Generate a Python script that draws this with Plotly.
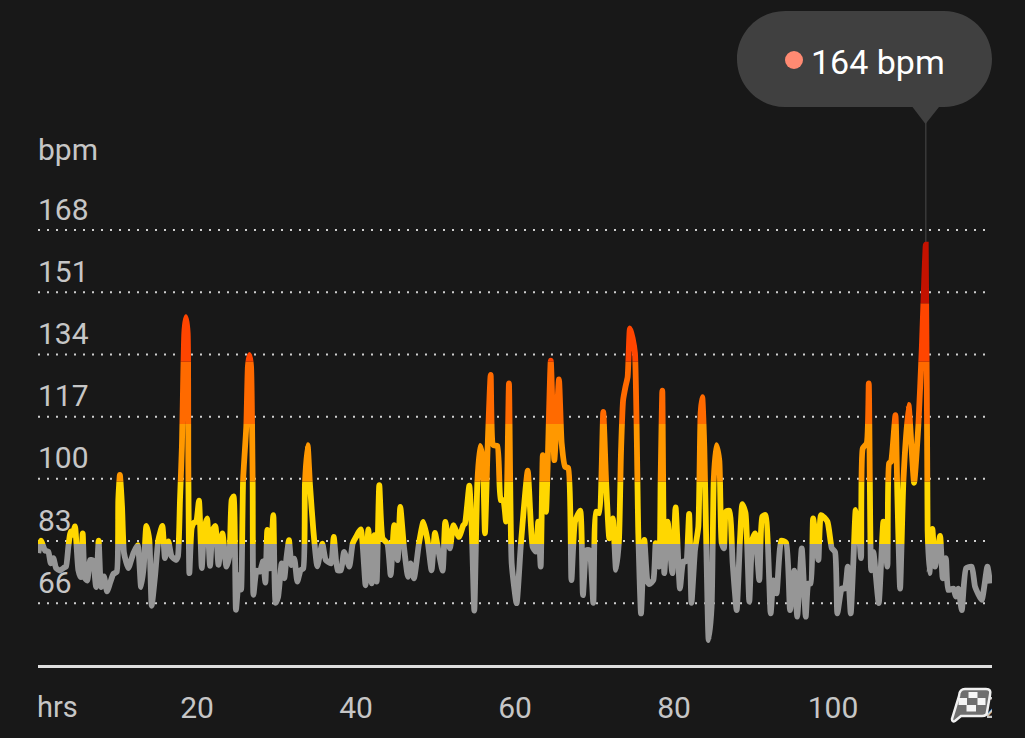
import plotly.graph_objects as go

# Elapsed time (hours) and heart rate (bpm) along the activity
hours = [
    0.04, 0.38, 0.88, 1.3, 1.6, 1.93, 2.27, 2.77, 3.19, 3.52,
    3.82, 4.11, 4.36, 4.65, 5.07, 5.37, 5.62, 5.91, 6.2, 6.54,
    6.88, 7.3, 7.63, 7.93, 8.3, 8.68, 9.06, 9.48, 9.9, 10.1,
    10.3, 10.57, 10.82, 11.36, 12, 12.54, 12.96, 13.3, 13.63, 14,
    14.3, 14.72, 15.14, 15.64, 15.97, 16.4, 16.8, 17.36, 17.6, 17.86,
    18.1, 18.4, 18.6, 18.83, 18.91, 19.04, 19.33, 19.62, 19.9, 20.25,
    20.6, 20.9, 21.26, 21.64, 21.97, 22.3, 22.7, 23.2, 23.7, 24.07,
    24.36, 24.6, 24.9, 25.3, 25.55, 25.8, 26.2, 26.4, 26.6, 26.8,
    27, 27.1, 27.5, 27.9, 28.3, 28.6, 28.84, 29.18, 29.6, 29.89,
    30.2, 30.65, 30.98, 31.27, 31.57, 31.9, 32.24, 32.62, 33.03, 33.37,
    33.58, 33.92, 34.2, 34.63, 35.13, 35.76, 36.2, 36.85, 37.2, 37.69,
    38.1, 38.5, 39.16, 39.58, 40, 40.6, 41.2, 41.55, 41.97, 42.3,
    42.6, 42.93, 43.35, 43.94, 44.36, 44.8, 45.24, 45.57, 46.03, 46.54,
    46.87, 47.29, 47.92, 48.47, 49, 49.5, 49.93, 50.35, 50.9, 51.23,
    51.82, 52.24, 52.95, 53.5, 53.71, 54.25, 54.55, 54.88, 55.26, 55.6,
    55.93, 56.22, 56.56, 56.94, 57.27, 57.78, 58.2, 58.53, 58.87, 59.24,
    59.58, 60.2, 60.75, 61.6, 62.22, 62.6, 62.93, 63.23, 63.5, 63.9,
    64.5, 64.95, 65.53, 65.87, 66.3, 66.7, 67.1, 67.55, 68.2, 68.55,
    69, 69.35, 69.85, 70.2, 70.57, 71.1, 71.45, 71.87, 72.3, 72.7,
    73.08, 73.33, 73.6, 73.9, 74.17, 74.46, 74.8, 75.09, 75.51, 75.85,
    76.27, 76.64, 76.89, 77.4, 77.7, 78.15, 78.32, 78.53, 78.78, 79.2,
    79.79, 80.2, 80.75, 81.17, 81.5, 81.9, 82.2, 82.64, 83.06, 83.35,
    83.56, 83.81, 84.1, 84.36, 84.73, 85, 85.32, 85.7, 86, 86.28,
    86.54, 86.96, 87.38, 87.88, 88.3, 88.6, 89, 89.47, 89.85, 90.2,
    90.73, 91.1, 91.5, 92.16, 92.5, 92.9, 93.5, 94.1, 94.6, 95.13,
    95.5, 96.07, 96.57, 96.9, 97.2, 97.5, 98.16, 98.5, 99.3, 99.85,
    100.26, 100.55, 101.1, 101.5, 101.85, 102.23, 102.57, 102.86, 103.2, 103.53,
    103.74, 104.24, 104.5, 104.8, 105.08, 105.75, 106.34, 106.84, 107.05, 107.3,
    107.85, 108.1, 108.44, 108.86, 109.5, 110.2, 110.74, 111.16, 111.67, 111.9,
    112.13, 112.5, 112.84, 113.47, 113.8, 114.2, 114.5, 115.15, 115.44, 115.77,
    116.2, 116.74, 117.45, 117.87, 118.7, 119.42, 119.76,
]
heart_rate = [
    79.7, 83.1, 80.4, 80.1, 76.9, 78.3, 75.6, 74.9, 75.6, 76,
    81.5, 85.6, 84.7, 87, 75.1, 73.1, 85.1, 72.8, 72.2, 77.8,
    77.7, 70.4, 83.1, 70.4, 73.3, 69.2, 71.5, 74, 74.6, 94.2,
    101.1, 92.4, 79.7, 75.6, 79.7, 81.9, 70.4, 76, 87.1, 83.3,
    65.3, 73.3, 83.3, 87.1, 78.3, 82.9, 78.8, 77.8, 78.8, 94.2,
    108.8, 139.8, 144.2, 139.8, 103.4, 74.2, 86.5, 88, 88.3, 94,
    75.6, 86, 89.2, 76.2, 86, 87.1, 76.5, 85.1, 76, 78.8,
    94.2, 95.2, 64.2, 73.7, 69.7, 99.7, 114.3, 130.7, 133.9, 130.7,
    99.7, 68.3, 74.9, 74.6, 77.4, 71.6, 86, 75.5, 90.1, 66.1,
    67.7, 76.9, 72.8, 78.7, 83.2, 76.4, 78.2, 71.9, 75, 75.5,
    98.7, 109.2, 98.7, 86, 76.1, 82.3, 77.8, 76.9, 84.1, 75,
    75, 80, 76, 82.3, 84.1, 86.2, 70.9, 86.2, 71.4, 84.6,
    71.9, 98.3, 83.7, 82.3, 73.7, 87.3, 77.8, 92.3, 81.4, 73.2,
    76.9, 72.8, 82.3, 88.2, 83.2, 75, 85.2, 80.5, 74.9, 88.2,
    81, 87.3, 84.1, 87.3, 87.8, 98.1, 86.9, 64, 98.8, 109,
    105.6, 85.1, 108.8, 128.4, 109.2, 109, 94.2, 94.2, 88.3, 126.1,
    76.9, 66, 82.4, 102.2, 81.4, 80.1, 88.3, 76, 106.5, 91,
    132.3, 105.1, 127.2, 109.7, 103.3, 102.9, 72.3, 88.3, 91.3, 68.2,
    80.5, 80.5, 66.1, 91, 90.6, 118.3, 99.7, 83.7, 89.2, 75.1,
    83.3, 107, 121.5, 125.2, 127.9, 141.1, 138.4, 134.3, 85.1, 63.2,
    83.3, 72.3, 71.2, 72.3, 82.4, 76, 99.7, 124.1, 74.2, 88.3,
    74.2, 92.2, 70, 77.4, 77.4, 90.4, 66.1, 80.5, 86.9, 118,
    122.3, 108.8, 77.8, 55.9, 65, 99.7, 109.2, 105, 82.4, 81,
    91, 91.3, 76.9, 64.1, 83.3, 93.1, 90.6, 66.4, 83.3, 85.1,
    72.3, 89.6, 90.1, 63.2, 72.2, 68.7, 83.1, 82.5, 64.1, 74.9,
    62.3, 81, 62.3, 71.4, 71.4, 89.2, 77.8, 90.1, 88.3, 81,
    80, 63.2, 70, 70, 76, 63.2, 77.8, 91.5, 86.9, 78.3,
    108.3, 109.7, 126.1, 75, 80, 66, 88.3, 76, 104.2, 104.7,
    117.4, 95.1, 70, 99.7, 120.2, 98.9, 114.7, 135.2, 164, 86,
    74.2, 86.3, 76, 84.4, 72.8, 78.3, 69.6, 70, 67.8, 70,
    64.1, 75.5, 76, 70.5, 66.9, 76, 71.4,
]
assert len(hours) == len(heart_rate)

# Axis ticks
y_ticks = [66, 83, 100, 117, 134, 151, 168]
x_ticks = [20, 40, 60, 80, 100, 120]

# Heart-rate zones: lower/upper limits and the colour of the line in each
zone_limits = [49.1, 82.2, 99.2, 115, 132, 148, 230.9]
zone_colors = ["#969696", "#FFD700", "#FF9800", "#FF6A00", "#FF4500", "#C41200"]

peak_hour = 111.67
peak_bpm = 164
peak_label = "164 bpm"

BG = "#181818"
FONT = "Roboto"
LABEL = "#C6C6C6"
W, H = 1025, 738
L, R, B = 38, 992, 665


def px(x):
    """Window pixel column to paper coordinate."""
    return (x - L) / (R - L)


def py(y):
    """Window pixel row to paper coordinate."""
    return (B - y) / B


def path(*cmds):
    """Build an SVG path from (command, x, y) pixel tuples."""
    out = []
    for c in cmds:
        if len(c) == 1:
            out.append(c[0])
        else:
            letter, coords = c[0], c[1:]
            pairs = [f"{px(coords[i]):.5f},{py(coords[i + 1]):.5f}" for i in range(0, len(coords), 2)]
            out.append(letter + " ".join(pairs))
    return " ".join(out)


fig = go.Figure()
y_min, y_max = zone_limits[0], zone_limits[-1]

# Full-height scale, first in the stack, carrying the dotted gridlines and their labels
layout_axes = {"yaxis": dict(domain=[0, 1], range=[y_min, y_max], visible=False, fixedrange=True)}
fig.add_trace(go.Scatter(x=[None], y=[None], xaxis="x", yaxis="y", hoverinfo="skip", showlegend=False))

# Each zone gets its own clipped subplot, so the colour changes on a hard horizontal edge
for i, color in enumerate(zone_colors):
    lo, hi = zone_limits[i], zone_limits[i + 1]
    fig.add_trace(go.Scatter(
        x=hours, y=heart_rate, mode="lines",
        line=dict(color=color, width=5.8, shape="spline", smoothing=0.5),
        xaxis="x", yaxis=f"y{i + 2}",
        hoverinfo="skip", showlegend=False,
    ))
    layout_axes[f"yaxis{i + 2}"] = dict(
        domain=[(lo - y_min) / (y_max - y_min), (hi - y_min) / (y_max - y_min)],
        range=[lo, hi], visible=False, fixedrange=True,
    )

shapes = []
annotations = []

for v in y_ticks:
    shapes.append(dict(
        type="line", xref="x", yref="y", x0=0, x1=119.2, y0=v, y1=v, layer="below",
        line=dict(color="#CFCFCF", width=2, dash="2px,7px"),
    ))
    annotations.append(dict(
        text=str(v), xref="paper", yref="y", x=px(35.5), y=v, xanchor="left", yanchor="middle",
        yshift=21, showarrow=False, font=dict(family=FONT, size=30, color=LABEL),
    ))

annotations.append(dict(
    text="bpm", xref="paper", yref="paper", x=px(36), y=py(149), xanchor="left", yanchor="middle",
    showarrow=False, font=dict(family=FONT, size=30, color=LABEL),
))
annotations.append(dict(
    text="hrs", xref="paper", yref="paper", x=px(34.5), y=py(707), xanchor="left", yanchor="middle",
    showarrow=False, font=dict(family=FONT, size=29, color=LABEL),
))

# Pointer line from the callout down to the peak
shapes.append(dict(
    type="line", xref="x", yref="y", x0=peak_hour, x1=peak_hour, y0=peak_bpm, y1=198,
    line=dict(color="#3A3A3A", width=1.5), layer="below",
))

# Callout bubble with its tail
r = 48
k = r * 0.5523
bubble = path(
    ("M", 737 + r, 11), ("L", 992 - r, 11),
    ("C", 992 - r + k, 11, 992, 59 - k, 992, 59),
    ("C", 992, 59 + k, 992 - r + k, 107, 992 - r, 107),
    ("L", 939, 107), ("L", 925.5, 124), ("L", 912.5, 107), ("L", 737 + r, 107),
    ("C", 737 + r - k, 107, 737, 59 + k, 737, 59),
    ("C", 737, 59 - k, 737 + r - k, 11, 737 + r, 11), ("Z",),
)
shapes.append(dict(type="path", xref="paper", yref="paper", path=bubble, fillcolor="#404040",
                   line=dict(width=0), layer="above"))
shapes.append(dict(type="circle", xref="paper", yref="paper", x0=px(785), x1=px(803), y0=py(69), y1=py(51),
                   fillcolor="#FF8A72", line=dict(width=0), layer="above"))
annotations.append(dict(
    text=peak_label, xref="paper", yref="paper", x=px(809), y=py(61.5), xanchor="left", yanchor="middle",
    showarrow=False, font=dict(family=FONT, size=34, color="#FFFFFF"),
))

# Right margin hides the part of the last tick label past the axis end
shapes.append(dict(type="rect", xref="paper", yref="paper", x0=px(992), x1=px(1025), y0=py(738), y1=py(668),
                   fillcolor=BG, line=dict(width=0), layer="above"))

# Finish-flag icon, with a backing patch over the label it sits on
shapes.append(dict(type="rect", xref="paper", yref="paper", x0=px(950), x1=px(987), y0=py(730), y1=py(686),
                   fillcolor=BG, line=dict(width=0), layer="above"))
flag = path(
    ("M", 959, 696), ("C", 959, 691, 962, 689, 965, 689), ("L", 986, 689),
    ("C", 990, 689, 991, 691, 990, 695), ("L", 987, 712), ("C", 987, 715, 985, 716, 982, 716),
    ("L", 961, 716), ("L", 955, 721), ("C", 953, 722, 952, 721, 952, 719), ("Z",),
)
shapes.append(dict(type="path", xref="paper", yref="paper", path=flag, fillcolor="#6E6E6E",
                   line=dict(color="#F0F0F0", width=2.5), layer="above"))
for x0, x1, y0, y1 in [(968.5, 977.5, 692, 698), (958.5, 967, 698, 705), (977.5, 985.5, 698, 705), (966.5, 976, 705, 711.5)]:
    shapes.append(dict(type="rect", xref="paper", yref="paper", x0=px(x0), x1=px(x1), y0=py(y1), y1=py(y0),
                       fillcolor="#F5F5F5", line=dict(width=0), layer="above"))

fig.update_layout(
    width=W, height=H,
    margin=dict(l=L, r=W - R, t=0, b=H - B, pad=0),
    paper_bgcolor=BG, plot_bgcolor="rgba(0,0,0,0)",
    showlegend=False, hovermode=False,
    font=dict(family=FONT, color=LABEL),
    shapes=shapes, annotations=annotations,
    xaxis=dict(
        range=[0, 120], tickvals=x_ticks, ticktext=[str(t) for t in x_ticks],
        showgrid=False, zeroline=False, showline=True, linecolor="#DEDEDE", linewidth=3,
        ticks="outside", ticklen=14, tickcolor=BG, tickwidth=1,
        tickfont=dict(family=FONT, size=30, color=LABEL),
        anchor="y", fixedrange=True,
    ),
    **layout_axes,
)

fig.write_html("out.html", config=dict(displayModeBar=False))
